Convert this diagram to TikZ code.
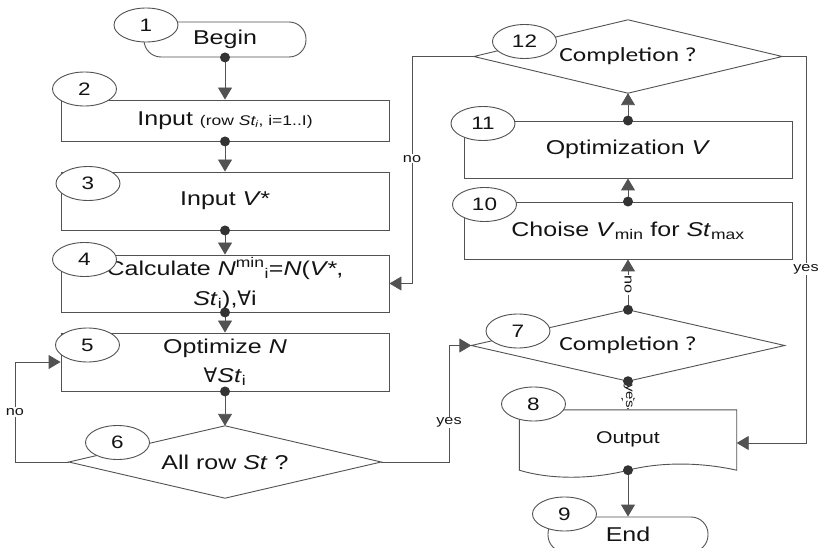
\documentclass[tikz,border=0pt]{standalone}
\usepackage{fontspec}
\setmainfont{Liberation Sans}[FakeStretch=1.25]
\newfontfamily\calfont{Carlito}[FakeStretch=1.27]
\newfontfamily\symfont{DejaVu Sans}
\usetikzlibrary{shapes.geometric,arrows.meta,calc}
\definecolor{lc}{gray}{0.32}
\definecolor{tc}{gray}{0.08}
\tikzset{
  ln/.style={draw=lc, line width=0.9pt},
  arr/.style={ln, -{Triangle[length=12pt,width=14pt]}},
  box/.style={draw=lc, line width=0.9pt, rectangle, minimum width=328pt, inner sep=2pt, align=center, text=tc, font=\fontsize{20}{29}\selectfont},
  term/.style={draw=lc, line width=0.9pt, rectangle, rounded corners=17pt, minimum width=162pt, minimum height=35pt, inner sep=0pt, text=tc, font=\fontsize{20}{24}\selectfont},
  dia/.style={rectangle, inner sep=0pt, text=tc, font=\fontsize{20}{24}\selectfont},
  cdia/.style={dia, font=\calfont\fontsize{20}{24}\selectfont},
  num/.style={draw=lc, line width=0.9pt, ellipse, fill=white, minimum width=64pt, minimum height=34pt, inner sep=0pt, text=tc, font=\fontsize{18}{18}\selectfont},
  lbl/.style={fill=white, inner sep=1pt, text=tc, font=\fontsize{13}{13}\selectfont},
  dotc/.style={fill=black!80}
}
\begin{document}
\begin{tikzpicture}[x=1pt,y=-1pt]
\clip (0,0) rectangle (820,548);
\fill[white] (0,0) rectangle (820,548);
% left column
\node[term] (b1) at (225,39.5) {Begin};
\node[box, minimum height=41pt] (b2) at (225,120.5) {Input {\fontsize{14}{14}\selectfont(row \textit{St\textsubscript{i}}, i=1..I)}};
\node[box, minimum height=58pt] (b3) at (225,201) {Input \textit{V*}};
\node[box, minimum height=57pt] (b4) at (225,283.5) {Calculate \textit{N}\textsuperscript{min}\textsubscript{i}=\textit{N}(\textit{V*},\\[1pt]\textit{St}\textsubscript{i}),{\symfont ∀}i};
\node[box, minimum height=58pt] (b5) at (225,362) {Optimize \textit{N}\\{\symfont ∀}\textit{St}\textsubscript{i}};
\node[dia, minimum width=312pt, minimum height=72pt] (d6) at (225,462) {All row \textit{St} ?};
\draw[ln] (d6.west) -- (d6.north) -- (d6.east) -- (d6.south) -- cycle;
% right column
\node[cdia, minimum width=308pt, minimum height=73pt] (d12) at (628,56.5) {Completion ?};
\draw[ln] (d12.west) -- (d12.north) -- (d12.east) -- (d12.south) -- cycle;
\node[box, minimum height=57pt] (b11) at (628,149.5) {Optimization \textit{V}};
\node[box, minimum height=57pt] (b10) at (628,230.5) {Choise \textit{V}\textsubscript{min} for \textit{St}\textsubscript{max}};
\node[cdia, minimum width=313pt, minimum height=71pt] (d7) at (628,345.5) {Completion ?};
\draw[ln] (d7.west) -- (d7.north) -- (d7.east) -- (d7.south) -- cycle;
\node[inner sep=0pt, minimum width=217pt, minimum height=60pt, text=tc, font=\fontsize{17}{17}\selectfont] (b8) at (628,440) {\raisebox{4pt}{Output}};
\draw[ln] (b8.south west) -- (b8.north west) -- (b8.north east) -- (b8.south east)
  .. controls (700,462) and (660,462) .. (b8.south)
  .. controls (598,478) and (555,481) .. (b8.south west) -- cycle;
\node[term, minimum width=160pt] (b9) at (628,534.5) {End};
% helper coordinates
\coordinate (c6) at (15,462);
\coordinate (c6y) at (449,462);
\coordinate (c12) at (412,56.5);
\coordinate (c12y) at (806,56.5);
\coordinate (b8in) at (b8.east |- 0,443);
% connectors
\draw[arr] (b1.south) -- (b2.north);
\draw[arr] (b2.south) -- (b3.north);
\draw[arr] (b3.south) -- (b4.north);
\draw[arr] (b4.south) -- (b5.north);
\draw[arr] (b5.south) -- (d6.north);
\draw[arr] (d6.west) -- (c6) -- node[lbl]{no} (c6 |- b5.west) -- (b5.west);
\draw[arr] (d6.east) -- (c6y) -- node[lbl, pos=0.34]{yes} (c6y |- d7.west) -- (d7.west);
\draw[arr] (d7.north) -- (b10.south);
\draw[arr] (d7.south) -- (b8.north);
\draw[arr] (b10.north) -- (b11.south);
\draw[arr] (b11.north) -- (d12.south);
\draw[arr] (d12.west) -- (c12) -- node[lbl, pos=0.45]{no} (c12 |- b4.east) -- (b4.east);
\draw[arr] (d12.east) -- (c12y) -- node[lbl, pos=0.55]{yes} (c12y |- b8in) -- (b8in);
\draw[arr] (b8.south) -- (b9.north);
% rotated labels on the short links
\path (d7.north) -- node[lbl, rotate=-90, pos=0.5]{no} (b10.south);
\path (d7.south) -- node[lbl, rotate=-90, inner sep=0.3pt, pos=0.52, font=\fontsize{12}{12}\selectfont]{yes} (b8.north);
% dots
\foreach \p in {b1.south,b2.south,b3.south,b4.south,b5.south,d7.north,d7.south,b10.north,b11.north,b8.south}
  \fill[dotc] (\p) circle (5pt);
% number ellipses
\node[num] (n1) at (146,25) {1};
\node[num] (n2) at (84.5,89) {2};
\node[num] (n3) at (88,183.5) {3};
\node[num] (n4) at (84.5,259.5) {4};
\node[num] (n5) at (87.5,345) {5};
\node[num] (n6) at (117.5,442.5) {6};
\node[num] (n7) at (518,331) {7};
\node[num] (n8) at (533.5,404) {8};
\node[num] (n9) at (564.5,514) {9};
\node[num] (n10) at (484.5,204.5) {10};
\node[num] (n11) at (483,123.5) {11};
\node[num] (n12) at (524.5,41.5) {12};
\end{tikzpicture}
\end{document}
